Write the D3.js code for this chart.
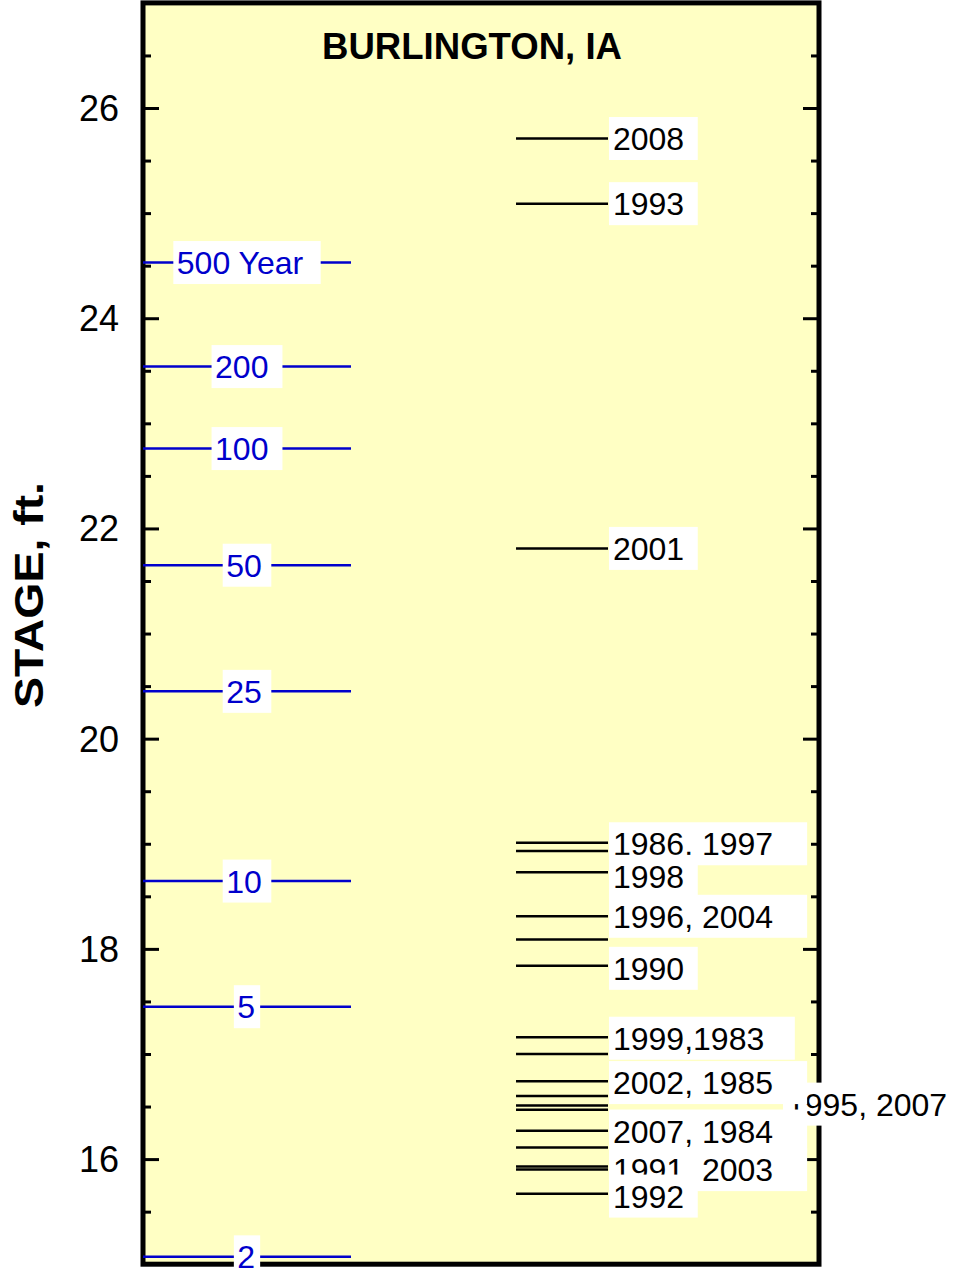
<!DOCTYPE html>
<html>
<head>
<meta charset="utf-8">
<script src="https://cdn.jsdelivr.net/npm/d3@7"></script>
<style>
  body { margin: 0; background: #fff; }
  text { font-family: "Liberation Sans", Arial, sans-serif; }
</style>
</head>
<body>
<svg id="chart" width="961" height="1268"></svg>
<script>
var title = "BURLINGTON, IA";
var axisTitle = "STAGE, ft.";
var stageDomain = [15, 27];
var majorTicks = [16, 18, 20, 22, 24, 26];
var minorTicks = [15.5, 16.5, 17, 17.5, 18.5, 19, 19.5, 20.5, 21, 21.5, 22.5, 23, 23.5, 24.5, 25, 25.5, 26.5];

// recurrence interval stages (blue)
var freqLabels = ["500 Year", "200", "100", "50", "25", "10", "5", "2"];
var freqStages = [24.53, 23.54, 22.76, 21.65, 20.45, 18.645, 17.45, 15.07];

// historical crests (black)
var eventYears = ["2008", "1993", "2001", "1986", "1997", "1998", "1996", "2004", "1990", "1999",
                  "1983", "2002", "1985", "1995", "2007", "2007", "1984", "1991", "2003", "1992"];
var eventStages = [25.71, 25.09, 21.81, 19.01, 18.93, 18.73, 18.31, 18.09, 17.84, 17.16,
                   17.00, 16.74, 16.60, 16.51, 16.47, 16.27, 16.11, 15.93, 15.90, 15.67];

// text boxes beside the crest lines
var labelTexts = ["2008", "1993", "2001", "1986, 1997", "1998", "1996, 2004", "1990", "1999,1983",
                  "1995, 2007", "2002, 1985", "2007, 1984", "1991, 2003", "1992"];
var labelStages = [25.71, 25.09, 21.81, 19.00, 18.69, 18.31, 17.815, 17.15,
                   16.523, 16.728, 16.267, 15.90, 15.648];
var outsideLabels = ["1995, 2007"];

var svg = d3.select("#chart");
var left = 143, right = 819;
var blue = "#0000cc";

var y = d3.scaleLinear().domain(stageDomain).range([1264.2, 2.9]);
var x = d3.scaleLinear().domain([0, 1]).range([left, right]);

// plot background
svg.append("rect")
  .attr("x", left).attr("y", y(27))
  .attr("width", right - left).attr("height", y(15) - y(27))
  .attr("fill", "#ffffc4");

// inward ticks on both sides
function ticks(axis, xpos, values, size) {
  var g = svg.append("g")
    .attr("transform", "translate(" + xpos + ",0)")
    .call(axis(y).tickValues(values).tickSize(size).tickFormat(""));
  g.select(".domain").remove();
  g.selectAll("line").attr("stroke", "#000").attr("stroke-width", 3);
}
ticks(d3.axisRight, left, minorTicks, 8);
ticks(d3.axisRight, left, majorTicks, 16);
ticks(d3.axisLeft, right, minorTicks, 8);
ticks(d3.axisLeft, right, majorTicks, 16);

// frame
svg.append("rect")
  .attr("x", left).attr("y", y(27))
  .attr("width", right - left).attr("height", y(15) - y(27))
  .attr("fill", "none").attr("stroke", "#000").attr("stroke-width", 5);

// blue frequency lines
svg.append("g").selectAll("line")
  .data(freqStages)
  .enter().append("line")
  .attr("x1", x(0)).attr("x2", x(0.3077))
  .attr("y1", function (d) { return y(d); })
  .attr("y2", function (d) { return y(d); })
  .attr("stroke", blue).attr("stroke-width", 2.5);

// black crest lines
svg.append("g").selectAll("line")
  .data(eventStages)
  .enter().append("line")
  .attr("x1", x(0.5518)).attr("x2", x(0.6879))
  .attr("y1", function (d) { return y(d); })
  .attr("y2", function (d) { return y(d); })
  .attr("stroke", "#000").attr("stroke-width", 2.5);

function boxedText(txt, yc, fill) {
  var g = svg.append("g");
  var rect = g.append("rect").attr("fill", "#fff");
  var t = g.append("text")
    .attr("y", yc).attr("dy", "0.36em")
    .attr("font-size", 32).attr("fill", fill)
    .text(txt);
  var w = t.node().getComputedTextLength();
  rect.attr("y", yc - 21.5).attr("height", 43);
  return { rect: rect, text: t, w: w };
}

// blue labels centred on their lines
freqLabels.forEach(function (lbl, i) {
  var b = boxedText(lbl, y(freqStages[i]), blue);
  var bw = b.w + 4 + Math.min(17, 4.5 * lbl.length);
  var x0 = (x(0) + x(0.3077)) / 2 - bw / 2;
  b.rect.attr("x", x0).attr("width", bw);
  b.text.attr("x", x0 + 3.5);
});

// crest year labels
labelTexts.forEach(function (lbl, i) {
  var b = boxedText(lbl, y(labelStages[i]), "#000");
  var x0 = outsideLabels.indexOf(lbl) >= 0 ? x(0.9467) : x(0.6893);
  b.rect.attr("x", x0).attr("width", b.w + 4 + 3.4 * lbl.length);
  b.text.attr("x", x0 + 4);
});

// tick labels
svg.append("g").selectAll("text")
  .data(majorTicks)
  .enter().append("text")
  .attr("x", 119)
  .attr("y", function (d) { return y(d); })
  .attr("dy", "0.36em")
  .attr("text-anchor", "end")
  .attr("font-size", 36)
  .attr("fill", "#000")
  .text(function (d) { return d; });

// title
svg.append("text")
  .attr("x", 472).attr("y", 59)
  .attr("text-anchor", "middle")
  .attr("font-size", 37).attr("font-weight", "bold")
  .attr("textLength", 300).attr("lengthAdjust", "spacingAndGlyphs")
  .text(title);

// axis title
svg.append("text")
  .attr("transform", "translate(43,595) rotate(-90)")
  .attr("text-anchor", "middle")
  .attr("font-size", 40).attr("font-weight", "bold")
  .attr("textLength", 226).attr("lengthAdjust", "spacingAndGlyphs")
  .text(axisTitle);
</script>
</body>
</html>
